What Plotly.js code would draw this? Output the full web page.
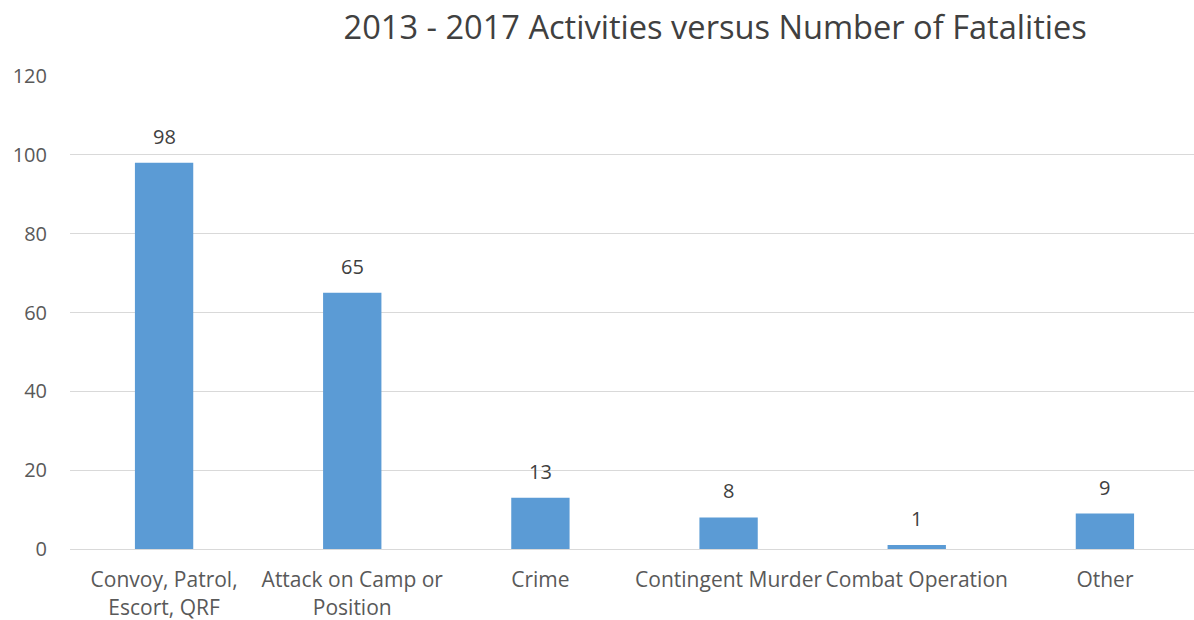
<!DOCTYPE html>
<html>
<head>
<meta charset="utf-8">
<script src="https://cdn.plot.ly/plotly-3.0.1.min.js"></script>
<style>html,body{margin:0;padding:0;background:#fff;overflow:hidden;}#chart{width:1200px;height:620px;}</style>
</head>
<body>
<div id="chart"></div>
<script>
const categories = ["Convoy, Patrol,<br>Escort, QRF", "Attack on Camp or<br>Position", "Crime", "Contingent Murder", "Combat Operation", "Other"];
const fatalities = [98, 65, 13, 8, 1, 9];
const yTicks = [0, 20, 40, 60, 80, 100, 120];

const FONT = 'Open Sans, sans-serif';

const trace = {
  type: 'bar',
  x: categories,
  y: fatalities,
  marker: {color: '#5B9BD5'},
  hoverinfo: 'x+y'
};

const labels = categories.map((c, i) => ({
  x: c, y: fatalities[i], xref: 'x', yref: 'y',
  text: String(fatalities[i]), showarrow: false,
  yanchor: 'bottom', yshift: 11,
  font: {family: FONT, size: 20, color: '#404040'}
}));

const layout = {
  width: 1200, height: 620,
  margin: {l: 70, r: 1, t: 76, b: 71},
  paper_bgcolor: '#fff', plot_bgcolor: '#fff',
  title: {text: '2013 - 2017 Activities versus Number of Fatalities', font: {family: FONT, size: 32.6, color: '#404040'}, xref: 'container', x: 0.596, xanchor: 'center', yref: 'container', y: 0.955, yanchor: 'middle'},
  bargap: 0.69,
  showlegend: false,
  font: {family: FONT, color: '#595959'},
  annotations: labels,
  xaxis: {
    tickfont: {size: 21, color: '#595959'},
    tickangle: 0,
    showline: true, linecolor: '#D9D9D9', linewidth: 1,
    ticks: 'outside', ticklen: 12, tickcolor: 'rgba(0,0,0,0)',
    showgrid: false, zeroline: false
  },
  yaxis: {
    range: [0, 120], tickvals: yTicks,
    tickfont: {size: 20, color: '#595959'},
    showgrid: true, gridcolor: '#D9D9D9', gridwidth: 1,
    zeroline: false, showline: false,
    ticks: 'outside', ticklen: 18, tickcolor: 'rgba(0,0,0,0)'
  }
};

Plotly.newPlot('chart', [trace], layout, {displayModeBar: false, staticPlot: true});
</script>
</body>
</html>
